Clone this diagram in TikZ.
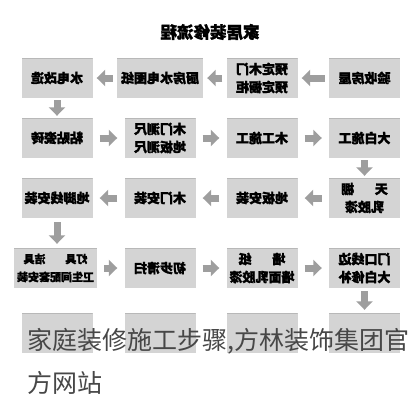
\documentclass[tikz,border=0pt]{standalone}
\usepackage{fontspec}
\usepackage{tikz}
\usetikzlibrary{arrows.meta,positioning}
\newfontfamily\cjk[BoldFeatures={FakeBold=1.6}]{Noto Sans CJK SC}
\colorlet{boxgray}{black!17}
\colorlet{arrowgray}{black!38}
\colorlet{notegray}{black!72}

\begin{document}
\begin{tikzpicture}[x=1pt,y=-1pt,
    stepbox/.style={fill=boxgray, minimum width=71pt, minimum height=40pt, inner sep=1pt,
        align=center, xscale=-1, font=\cjk\bfseries\fontsize{13}{18}\selectfont,
        path picture={\draw[line width=1.5pt, black!28] (path picture bounding box.north west) -- (path picture bounding box.north east);}},
    flow/.style={line width=7pt, arrowgray, -{Triangle[width=16pt,length=8.5pt]}, shorten >=7pt, shorten <=7pt},
    note/.style={anchor=west, inner sep=0pt, notegray, font=\cjk\fontsize{25}{30}\selectfont}]
    \useasboundingbox (0,0) rectangle (419,400);

    % Title
    \node[xscale=-1, font=\cjk\bfseries\fontsize{16.5}{18}\selectfont] (title) at (210,32) {家居装修流程};

    % Row 1
    \node[stepbox] (yanshou) at (364.5,78) {验收房屋};
    \node[stepbox] (yuding) at (262,78) {预定木门\\预定橱柜};
    \node[stepbox, minimum width=86pt] (tuzhi) at (160,78) {厨房水电图纸};
    \node[stepbox] (shuidian) at (57,78) {水电改造};

    % Row 2
    \node[stepbox] (cizhuan) at (57,138) {粘贴瓷砖};
    \node[stepbox] (cechi) at (160,138) {木门测尺\\地板测尺};
    \node[stepbox] (mugong) at (262,138) {木工施工};
    \node[stepbox] (dabai) at (364.5,138) {大白施工};

    % Row 3
    \node[stepbox] (tianpeng) at (364.5,198) {天\hspace{1.6em}棚\\乳胶漆};
    \node[stepbox] (diban) at (262,198) {地板安装};
    \node[stepbox] (mumen) at (160,198) {木门安装};
    \node[stepbox] (dijiao) at (57,198) {地脚线安装};

    % Row 4
    \node[stepbox, minimum width=83pt, font=\cjk\bfseries\fontsize{11}{18}\selectfont] (dengju) at (55.5,268) {灯具\hspace{1.8em}洁具\\卫生间配套安装};
    \node[stepbox] (qingsao) at (160,268) {初步清扫};
    \node[stepbox] (qiangzhi) at (262,268) {墙\hspace{1.6em}纸\\墙面乳胶漆};
    \node[stepbox] (xiubu) at (364.5,268) {门口线边\\大白修补};

    % Row 5 (covered by the caption)
    \foreach \x/\name in {57/ra, 160/rb, 262/rc, 364.5/rd} {
        \node[stepbox] (\name) at (\x,333) {};
    }

    % Arrows
    \draw[flow, shorten >=4pt, shorten <=4pt] (yanshou) -- (yuding);
    \draw[flow, shorten >=4pt, shorten <=4pt] (yuding) -- (tuzhi);
    \draw[flow, shorten >=4pt, shorten <=4pt] (tuzhi) -- (shuidian);
    \draw[flow, shorten >=2pt, shorten <=2pt] (shuidian) -- (cizhuan);
    \draw[flow] (cizhuan) -- (cechi);
    \draw[flow] (cechi) -- (mugong);
    \draw[flow] (mugong) -- (dabai);
    \draw[flow, shorten >=2pt, shorten <=2pt] (dabai) -- (tianpeng);
    \draw[flow] (tianpeng) -- (diban);
    \draw[flow] (diban) -- (mumen);
    \draw[flow] (mumen) -- (dijiao);
    \draw[flow, shorten >=4pt, shorten <=4pt] (dijiao) -- (dengju.north -| dijiao);
    \draw[flow] (dengju) -- (qingsao);
    \draw[flow] (qingsao) -- (qiangzhi);
    \draw[flow] (qiangzhi) -- (xiubu);
    \draw[flow, shorten >=3pt, shorten <=3pt] (xiubu) -- (rd);

    % Caption over the picture
    \node[note] (cap1) at (27,341) {家庭装修施工步骤,方林装饰集团官};
    \node[note] (cap2) at (27,383) {方网站};
\end{tikzpicture}
\end{document}
